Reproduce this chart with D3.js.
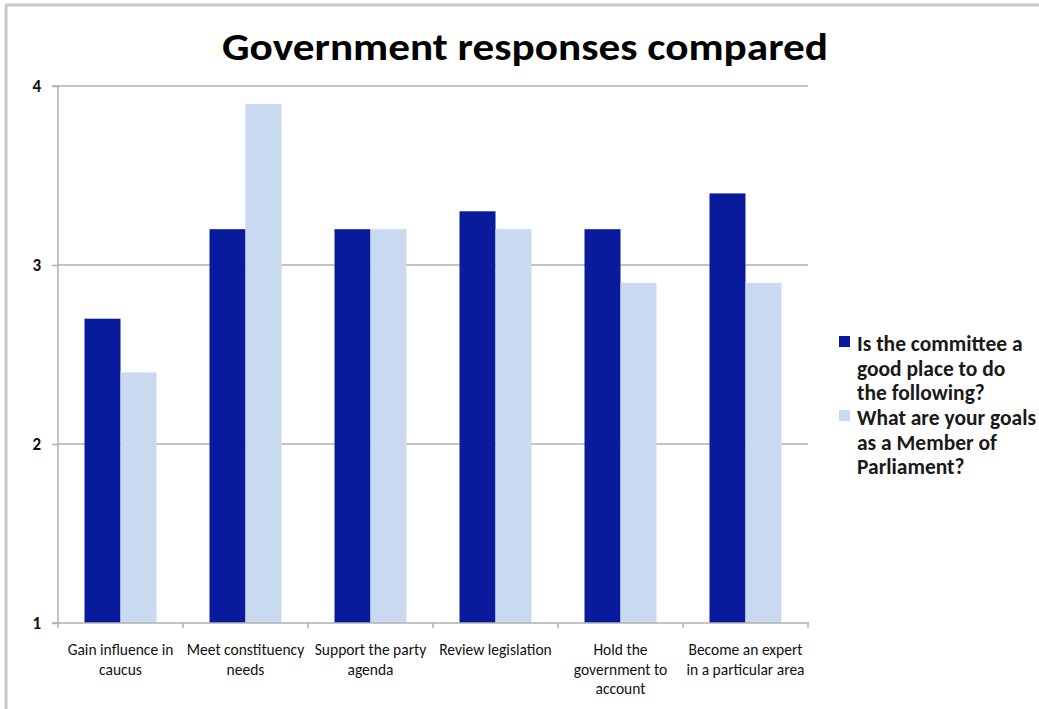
<!DOCTYPE html>
<html><head><meta charset="utf-8">
<script src="https://cdn.jsdelivr.net/npm/d3@7"></script>
<style>body{margin:0;background:#fff;} svg{display:block;}</style>
</head><body>
<svg id="c" width="1039" height="709"></svg>
<script>
const categories = [
  ["Gain influence in", "caucus"],
  ["Meet constituency", "needs"],
  ["Support the party", "agenda"],
  ["Review legislation"],
  ["Hold the", "government to", "account"],
  ["Become an expert", "in a particular area"]
];
const seriesNames = [
  ["Is the committee a", "good place to do", "the following?"],
  ["What are your goals", "as a Member of", "Parliament?"]
];
const committeeValues = [2.7, 3.2, 3.2, 3.3, 3.2, 3.4];
const goalsValues = [2.4, 3.9, 3.2, 3.2, 2.9, 2.9];
const yTicks = [1, 2, 3, 4];
const colors = ["#0a1a9c", "#c9daf0"];
const title = "Government responses compared";

(function () {
const svg = d3.select("#c");
const font = "Carlito, 'Liberation Sans Narrow', 'DejaVu Sans Condensed', sans-serif";

// frame
svg.append("line").attr("x1",5).attr("x2",1039).attr("y1",5).attr("y2",5).attr("stroke","#c8c8c8").attr("stroke-width",3);
svg.append("line").attr("x1",6).attr("x2",6).attr("y1",5).attr("y2",709).attr("stroke","#c8c8c8").attr("stroke-width",3);

const pLeft = 58, pRight = 808, pTop = 86, pBottom = 623;
const x = d3.scaleBand().domain(d3.range(categories.length)).range([pLeft, pRight]).paddingInner(0).paddingOuter(0);
const y = d3.scaleLinear().domain([1, 4]).range([pBottom, pTop]);
const barW = 36;

// gridlines
svg.append("g").selectAll("line").data(yTicks.slice(1)).join("line")
  .attr("x1", pLeft).attr("x2", pRight).attr("y1", d => y(d)).attr("y2", d => y(d))
  .attr("stroke", "#b0b0b0").attr("stroke-width", 1.5);

// bars
const series = [committeeValues, goalsValues];
series.forEach((vals, si) => {
  svg.append("g").selectAll("rect").data(vals).join("rect")
    .attr("x", (d, i) => x(i) + x.bandwidth()/2 - barW + si*barW)
    .attr("y", d => y(d))
    .attr("width", barW)
    .attr("height", d => y(1) - y(d))
    .attr("fill", colors[si]);
});

// y axis
const yAxis = d3.axisLeft(y).tickValues(yTicks).tickSize(6).tickFormat(d3.format("d"));
const gy = svg.append("g").attr("transform", `translate(${pLeft},0)`).call(yAxis);
gy.select(".domain").attr("stroke", "#b0b0b0").attr("stroke-width", 1.5).attr("d", `M-6,${pTop}H0V${pBottom}H-6`);
gy.selectAll(".tick line").attr("stroke", "#b0b0b0").attr("stroke-width", 1.5);
gy.selectAll(".tick text").attr("x", -17).attr("dy", "0.35em").attr("font-family", font).attr("font-weight", "bold").attr("font-size", 17).attr("fill", "#111");

// x axis
const gx = svg.append("g").attr("transform", `translate(0,${pBottom})`);
gx.append("line").attr("x1", pLeft).attr("x2", pRight+1).attr("stroke", "#b0b0b0").attr("stroke-width", 1.5);
gx.selectAll("line.t").data(d3.range(categories.length + 1)).join("line").attr("class","t")
  .attr("x1", i => pLeft + i*x.bandwidth()).attr("x2", i => pLeft + i*x.bandwidth())
  .attr("y1", 0).attr("y2", 5).attr("stroke", "#b0b0b0").attr("stroke-width", 1.5);
categories.forEach((lines, i) => {
  const t = gx.append("text").attr("text-anchor", "middle").attr("font-family", font)
    .attr("font-size", 15.5).attr("fill", "#111");
  lines.forEach((ln, j) => t.append("tspan").attr("x", x(i) + x.bandwidth()/2).attr("y", 32 + j*19.5).text(ln));
});

// title
svg.append("text").attr("x", 525).attr("y", 60).attr("text-anchor", "middle")
  .attr("font-family", font).attr("font-weight", "bold").attr("font-size", 38).attr("fill", "#000")
  .attr("textLength", 606).attr("lengthAdjust", "spacingAndGlyphs").text(title);

// legend
const lg = svg.append("g");
seriesNames.forEach((lines, si) => {
  const y0 = 344 + si*74;
  lg.append("rect").attr("x", 839).attr("y", y0 - 8).attr("width", 11).attr("height", 11).attr("fill", colors[si]);
  const t = lg.append("text").attr("font-family", font).attr("font-size", 21.5).attr("font-weight", "bold").attr("fill", "#1a1a1a");
  lines.forEach((ln, j) => t.append("tspan").attr("x", 857).attr("y", y0 + 7 + j*24.5).text(ln));
});
})();
</script>
</body></html>
